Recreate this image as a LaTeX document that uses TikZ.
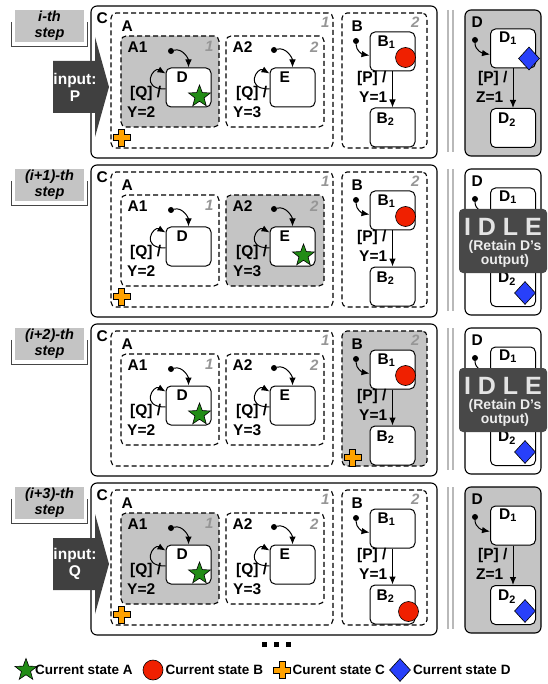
\documentclass[tikz,border=0pt]{standalone}
\usepackage{fontspec}
\setmainfont{Liberation Sans}
\usetikzlibrary{shapes.geometric, arrows.meta, positioning}

\definecolor{hlgray}{RGB}{196,196,196}
\definecolor{boxdark}{RGB}{64,64,64}
\definecolor{idlegray}{RGB}{72,72,72}
\definecolor{numgray}{RGB}{150,150,150}
\definecolor{stargreen}{RGB}{34,140,22}
\definecolor{circred}{RGB}{240,32,0}
\definecolor{plusorange}{RGB}{255,162,0}
\definecolor{diablue}{RGB}{40,64,250}

\tikzset{
    plusmark/.pic={
        \filldraw[fill=plusorange, draw=black, line width=0.6pt]
            (-3,-8.5) -- (3,-8.5) -- (3,-3) -- (8.5,-3) -- (8.5,3) -- (3,3) -- (3,8.5)
            -- (-3,8.5) -- (-3,3) -- (-8.5,3) -- (-8.5,-3) -- (-3,-3) -- cycle;
    }
}

\begin{document}
\begin{tikzpicture}[x=1pt, y=1pt,
        lbl/.style={font=\fontsize{15.5}{17}\selectfont\bfseries, inner sep=0pt},
        num/.style={font=\fontsize{15}{17}\selectfont\bfseries\itshape, text=numgray, inner sep=0pt},
        lgd/.style={font=\fontsize{13.5}{15}\selectfont\bfseries, inner sep=0pt},
        steptab/.style={fill=hlgray, minimum width=69pt, minimum height=32pt, align=center, font=\fontsize{14.5}{16}\selectfont\bfseries\itshape, inner sep=0pt},
        tabedge/.style={draw=gray!55!black, line width=1.3pt},
        cbox/.style={draw, rounded corners=6pt, line width=1.1pt},
        region/.style={draw, dash pattern=on 5pt off 3pt, rounded corners=5pt, line width=1.1pt},
        state/.style={draw, fill=white, rounded corners=5pt, line width=1pt, minimum width=45pt, minimum height=39pt, inner sep=0pt},
        dot/.style={circle, fill, inner sep=0pt, minimum size=6pt},
        tr/.style={-{Latex[length=8pt, width=6.5pt]}, line width=1pt},
        sepline/.style={draw=gray!55, line width=1.6pt},
        idlebox/.style={fill=idlegray, rounded corners=4pt, minimum width=88pt, minimum height=64pt},
        starmark/.style={star, star points=5, star point ratio=2.4, fill=stargreen, draw=black, line width=0.6pt, minimum size=23pt, inner sep=0pt},
        circmark/.style={circle, fill=circred, draw=black, line width=0.6pt, minimum size=20pt, inner sep=0pt},
        diamark/.style={diamond, fill=diablue, draw=black, line width=0.6pt, minimum width=21pt, minimum height=23pt, inner sep=0pt}
    ]
    \useasboundingbox (0,0) rectangle (547,-684);

    % one step of the execution per row
    \foreach \r/\fa/\fb/\fc/\fd/\stp in {0/hlgray/white/white/hlgray/{i-th}, 1/white/hlgray/white/white/{(i+1)-th}, 2/white/white/hlgray/white/{(i+2)-th}, 3/hlgray/white/white/hlgray/{(i+3)-th}}{
    \begin{scope}[yshift=-159pt*\r]
        % step tab
        \node[steptab] (tab-\r) at (49.5,-26) {\stp\\step};
        \draw[tabedge] ([shift={(-3,-12)}]tab-\r.north west) |- ([shift={(3,-4)}]tab-\r.south east) -- ([shift={(3,-12)}]tab-\r.north east);

        % chart C
        \node[cbox, minimum width=346pt, minimum height=152pt] (C-\r) at (264,-82) {};
        \node[lbl, anchor=north west] at ([shift={(6,-7)}]C-\r.north west) {C};

        % state A with A1 and A2
        \node[region, minimum width=222pt, minimum height=135pt] (A-\r) at (222,-80.5) {};
        \node[lbl, anchor=north west] at ([shift={(11,-8)}]A-\r.north west) {A};
        \node[num, anchor=north east] at ([shift={(-4,-5)}]A-\r.north east) {1};

        \node[region, fill=\fa, minimum width=98pt, minimum height=91pt] (A1-\r) at (170,-81.5) {};
        \node[lbl, anchor=north west] at ([shift={(7,-6)}]A1-\r.north west) {A1};
        \node[num, anchor=north east] at ([shift={(-6,-6)}]A1-\r.north east) {1};
        \node[state] (stD-\r) at (188.5,-87.5) {};
        \node[lbl, anchor=north west] at ([shift={(11,-4)}]stD-\r.north west) {D};
        \node[dot] (iD-\r) at (171,-51) {};
        \draw[tr] (iD-\r) to[out=15, in=90] (stD-\r.north);
        \draw[tr] ([yshift=-1.5pt]stD-\r.west) to[out=180, in=150, out distance=26pt, in distance=14pt] ([yshift=14pt]stD-\r.west);
        \node[lbl, anchor=west] at (130,-93) {[Q] /};
        \node[lbl, anchor=west] at (127,-112) {Y=2};

        \node[region, fill=\fb, minimum width=98pt, minimum height=91pt] (A2-\r) at (275,-81.5) {};
        \node[lbl, anchor=north west] at ([shift={(7,-6)}]A2-\r.north west) {A2};
        \node[num, anchor=north east] at ([shift={(-6,-6)}]A2-\r.north east) {2};
        \node[state] (stE-\r) at (292.5,-87.5) {};
        \node[lbl, anchor=north west] at ([shift={(10,-4)}]stE-\r.north west) {E};
        \node[dot] (iE-\r) at (274,-50) {};
        \draw[tr] (iE-\r) to[out=15, in=90] (stE-\r.north);
        \draw[tr] ([yshift=-1.5pt]stE-\r.west) to[out=180, in=150, out distance=26pt, in distance=14pt] ([yshift=14pt]stE-\r.west);
        \node[lbl, anchor=west] at (236,-93) {[Q] /};
        \node[lbl, anchor=west] at (233,-112) {Y=3};

        % state B
        \node[region, fill=\fc, minimum width=85pt, minimum height=135pt] (B-\r) at (384.5,-80.5) {};
        \node[lbl, anchor=north west] at ([shift={(10,-8)}]B-\r.north west) {B};
        \node[num, anchor=north east] at ([shift={(-8,-4)}]B-\r.north east) {2};
        \node[state] (stB1-\r) at (392.5,-51.5) {};
        \node[lbl, anchor=north west] at ([shift={(8,-4)}]stB1-\r.north west) {B\textsubscript{1}};
        \node[state] (stB2-\r) at (392.5,-127.5) {};
        \node[lbl, anchor=north west] at ([shift={(7,-5)}]stB2-\r.north west) {B\textsubscript{2}};
        \node[dot] (iB-\r) at (356,-41) {};
        \draw[tr] (iB-\r) to[out=-90, in=170] ([yshift=-4pt]stB1-\r.west);
        \draw[tr] (stB1-\r) -- (stB2-\r);
        \node[lbl, anchor=west] at (357,-78) {[P] /};
        \node[lbl, anchor=west] at (359,-97) {Y=1};

        % separator
        \draw[sepline] (448,-10) -- (448,-152);
        \draw[sepline] (453,-10) -- (453,-152);

        % chart D
        \node[cbox, fill=\fd, minimum width=76pt, minimum height=146pt] (Dp-\r) at (503,-83) {};
        \node[lbl, anchor=north west] at ([shift={(7,-7)}]Dp-\r.north west) {D};
        \node[state] (stD1-\r) at (513,-48.5) {};
        \node[lbl, anchor=north west] at ([shift={(9,-3)}]stD1-\r.north west) {D\textsubscript{1}};
        \node[state] (stD2-\r) at (513,-128) {};
        \node[lbl, anchor=north west] at ([shift={(8,-5)}]stD2-\r.north west) {D\textsubscript{2}};
        \node[dot] (iDp-\r) at (475,-40) {};
        \draw[tr] (iDp-\r) to[out=-90, in=170] ([yshift=-6pt]stD1-\r.west);
        \draw[tr] (stD1-\r) -- (stD2-\r);
        \node[lbl, anchor=west] at (478,-78) {[P] /};
        \node[lbl, anchor=west] at (476,-97) {Z=1};
    \end{scope}
    }

    % inputs
    \foreach \r/\inp in {0/P, 3/Q}{
    \begin{scope}[yshift=-159pt*\r]
        \fill[boxdark] (53,-61) -- (95,-61) -- (95,-37) -- (109,-87) -- (95,-137) -- (95,-113) -- (53,-113) -- cycle;
        \node[lbl, text=white, align=center] (inp-\r) at (75,-87) {input:\\\inp};
    \end{scope}
    }

    % D is idle
    \foreach \r in {1,2}{
    \begin{scope}[yshift=-159pt*\r]
        \node[idlebox] (idle-\r) at (503,-82) {};
        \node[font=\fontsize{25}{26}\selectfont\bfseries, text=gray!22, inner sep=0pt] at (503,-68) {I D L E};
        \node[font=\fontsize{14}{16}\selectfont\bfseries, text=gray!15, inner sep=0pt] at (505,-88) {(Retain D's};
        \node[font=\fontsize{14}{16}\selectfont\bfseries, text=gray!15, inner sep=0pt] at (505,-102) {output)};
    \end{scope}
    }

    % current states
    \node[starmark] at ([shift={(-12,11)}]stD-0.south east) {};
    \node[circmark] at ([shift={(-10,14)}]stB1-0.south east) {};
    \pic at ([shift={(11,11)}]A-0.south west) {plusmark};
    \node[diamark] at ([shift={(-7,10)}]stD1-0.south east) {};

    \node[starmark] at ([shift={(-12,11)}]stE-1.south east) {};
    \node[circmark] at ([shift={(-10,14)}]stB1-1.south east) {};
    \pic at ([shift={(11,11)}]A-1.south west) {plusmark};
    \node[diamark] at ([shift={(-11,14)}]stD2-1.south east) {};

    \node[starmark] at ([shift={(-12,11)}]stD-2.south east) {};
    \node[circmark] at ([shift={(-10,14)}]stB1-2.south east) {};
    \pic at ([shift={(11,9)}]B-2.south west) {plusmark};
    \node[diamark] at ([shift={(-11,14)}]stD2-2.south east) {};

    \node[starmark] at ([shift={(-12,11)}]stD-3.south east) {};
    \node[circmark] at ([shift={(-7,13)}]stB2-3.south east) {};
    \pic at ([shift={(11,11)}]A-3.south west) {plusmark};
    \node[diamark] at ([shift={(-11,14)}]stD2-3.south east) {};

    % more steps
    \foreach \x in {264,276,288}
        \fill (\x-2.5,-641.5) rectangle +(5,-5);

    % legend
    \node[starmark] (legA) at (26,-670) {};
    \node[lgd, right=2pt of legA] {Current state A};
    \node[circmark] (legB) at (153,-670) {};
    \node[lgd, right=2pt of legB] {Current state B};
    \pic at (282,-670) {plusmark};
    \coordinate (legC) at (290.5,-670);
    \node[lgd, right=2pt of legC] {Curent state C};
    \node[diamark] (legD) at (400,-670) {};
    \node[lgd, right=2pt of legD] {Current state D};
\end{tikzpicture}
\end{document}
